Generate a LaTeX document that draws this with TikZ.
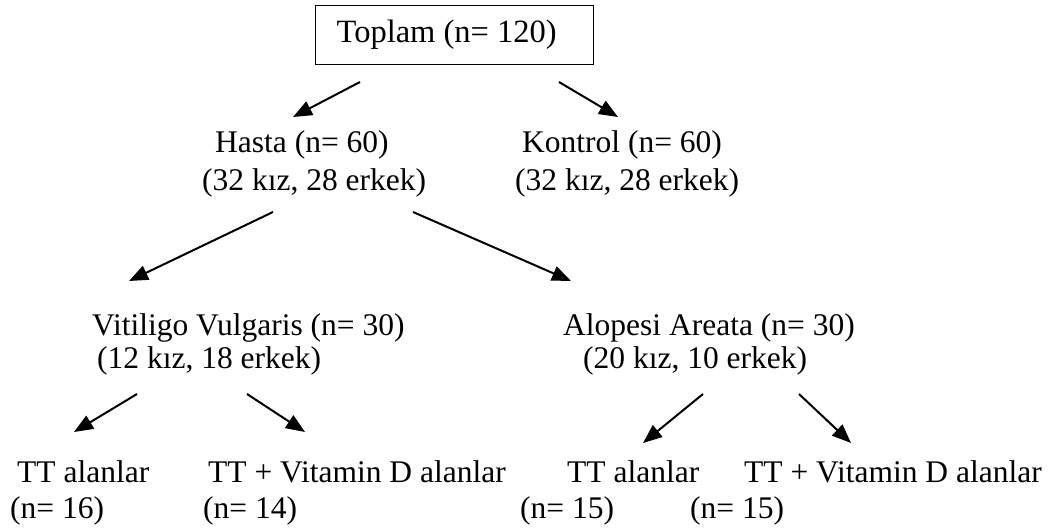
\documentclass[tikz,border=0pt]{standalone}
\usepackage{fontspec}
\setmainfont{Liberation Serif}
\usetikzlibrary{arrows.meta}
\begin{document}
\begin{tikzpicture}[x=1pt,y=-1pt,
  lbl/.style={anchor=base west,inner sep=0pt,font=\fontsize{31.5}{36}\selectfont},
  arr/.style={line width=2pt,-{Triangle[length=19pt,width=15pt]}}]
\useasboundingbox (0,0) rectangle (1063,532);
\node[draw,line width=1.3pt,anchor=north west,inner xsep=0pt,inner ysep=0pt,minimum height=59pt,
  font=\fontsize{32.5}{36}\selectfont] (top) at (315,5) {\kern21pt Toplam (n= 120)\kern37pt};
\node[lbl] (h1) at (215,153) {Hasta (n= 60)};
\node[lbl] (h2) at (202,190) {(32 kız, 28 erkek)};
\node[lbl] (k1) at (522,153) {Kontrol (n= 60)};
\node[lbl] (k2) at (515,190) {(32 kız, 28 erkek)};
\node[lbl] (v1) at (92,335) {Vitiligo Vulgaris (n= 30)};
\node[lbl] (v2) at (97,368) {(12 kız, 18 erkek)};
\node[lbl] (al1) at (563,335) {Alopesi Areata (n= 30)};
\node[lbl] (al2) at (583,368) {(20 kız, 10 erkek)};
\node[lbl] (t1) at (17,482) {TT alanlar};
\node[lbl] (t1n) at (10,518) {(n= 16)};
\node[lbl] (t2) at (208,482) {TT + Vitamin D alanlar};
\node[lbl] (t2n) at (203,518) {(n= 14)};
\node[lbl] (t3) at (567,482) {TT alanlar};
\node[lbl] (t3n) at (520,518) {(n= 15)};
\node[lbl] (t4) at (744,482) {TT + Vitamin D alanlar};
\node[lbl] (t4n) at (690,518) {(n= 15)};
\coordinate (a1s) at (360,82);  \coordinate (a1e) at (293,117);
\coordinate (a2s) at (559,82);  \coordinate (a2e) at (618,117);
\coordinate (a3s) at (273,212); \coordinate (a3e) at (129,281);
\coordinate (a4s) at (413,212); \coordinate (a4e) at (571,281);
\coordinate (a5s) at (137,394); \coordinate (a5e) at (74,432);
\coordinate (a6s) at (247,394); \coordinate (a6e) at (305,432);
\coordinate (a7s) at (703,394); \coordinate (a7e) at (643,443);
\coordinate (a8s) at (799,394); \coordinate (a8e) at (851,443);
\draw[arr] (a1s) -- (a1e);
\draw[arr] (a2s) -- (a2e);
\draw[arr] (a3s) -- (a3e);
\draw[arr] (a4s) -- (a4e);
\draw[arr] (a5s) -- (a5e);
\draw[arr] (a6s) -- (a6e);
\draw[arr] (a7s) -- (a7e);
\draw[arr] (a8s) -- (a8e);
\end{tikzpicture}
\end{document}
